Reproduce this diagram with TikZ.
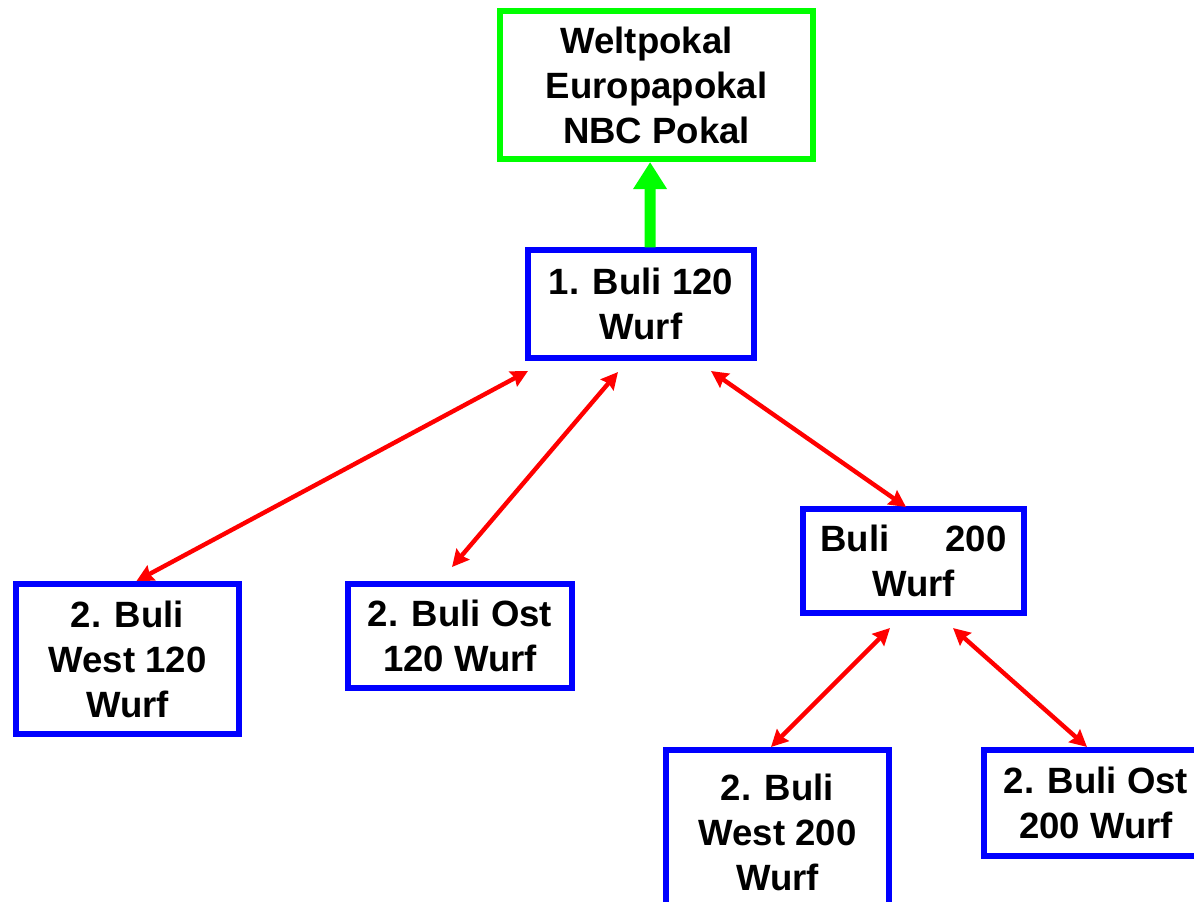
\documentclass[tikz,border=0pt]{standalone}
\usepackage{fontspec}
\setmainfont{Liberation Sans}
\usetikzlibrary{arrows.meta}

\begin{document}
\begin{tikzpicture}[x=0.025cm, y=-0.025cm,
  buli/.style={shape=rectangle, draw={rgb,255:red,0;green,0;blue,255}, line width=0.15cm, inner sep=0pt, align=center, font=\bfseries\fontsize{26}{32}\selectfont},
  pokal/.style={buli, draw={rgb,255:red,0;green,255;blue,0}},
  wechsel/.style={{Stealth[length=0.42cm, width=0.42cm, inset=0.05cm]}-{Stealth[length=0.42cm, width=0.42cm, inset=0.05cm]}, line width=0.11cm, draw={rgb,255:red,255;green,0;blue,0}},
  aufstieg/.style={-{Triangle[length=0.675cm, width=0.8cm]}, line width=0.275cm, draw={rgb,255:red,0;green,255;blue,0}}]
\useasboundingbox (0,0) rectangle (1194,901);
\node[pokal, minimum width=7.825cm, minimum height=3.7cm] (P) at (656.5,85) {Weltpokal\kern0.5cm\\Europapokal\\NBC Pokal};
\node[buli, minimum width=5.625cm, minimum height=2.675cm] (B1) at (641,304) {1. Buli 120\\Wurf};
\node[buli, minimum width=5.525cm, minimum height=2.6cm] (B2) at (913.5,561) {Buli\hspace{1.4cm}200\\Wurf};
\node[buli, minimum width=5.575cm, minimum height=3.75cm] (W1) at (127.5,659) {2. Buli\\West 120\\Wurf};
\node[buli, minimum width=5.6cm, minimum height=2.6cm] (O1) at (460,636) {2. Buli Ost\\120 Wurf};
\node[buli, minimum width=5.575cm, minimum height=4.1cm] (W2) at (777.5,832) {2. Buli\\West 200\\Wurf};
\node[buli, minimum width=5.575cm, minimum height=2.65cm] (O2) at (1096,803) {2. Buli Ost\\200 Wurf};
\draw[aufstieg] ([xshift=0.225cm]B1.north) -- ([xshift=-0.16cm]P.south);
\draw[wechsel] ([shift={(2.5,10.5)}]B1.south west) -- ([shift={(9,0)}]W1.north);
\draw[wechsel] ([shift={(-23,11.5)}]B1.south) -- ([shift={(-8,-14)}]O1.north);
\draw[wechsel] ([shift={(-45.5,10.5)}]B1.south east) -- ([shift={(-7.5,1)}]B2.north);
\draw[wechsel] ([shift={(-23.5,12)}]B2.south) -- ([shift={(-6.5,0)}]W2.north);
\draw[wechsel] ([shift={(39.5,12)}]B2.south) -- ([shift={(-9,0)}]O2.north);
\end{tikzpicture}
\end{document}
